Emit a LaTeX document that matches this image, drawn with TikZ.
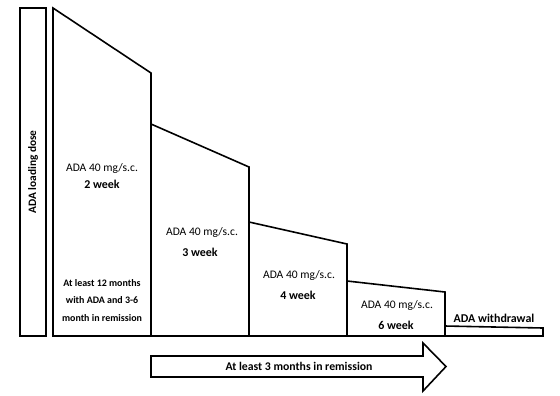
\documentclass[tikz,border=0pt]{standalone}
\usepackage{fontspec}
\setmainfont{Carlito}
\usetikzlibrary{shapes.arrows}
\begin{document}
\begin{tikzpicture}[x=1bp,y=-1bp,
  blk/.style={draw=black,line width=1.6pt,fill=white,line join=miter},
  lbl/.style={inner sep=0pt,font=\fontsize{11.6}{13}\selectfont},
  wk/.style={inner sep=0pt,font=\fontsize{12}{14}\selectfont\bfseries},
  sm/.style={inner sep=0pt,font=\fontsize{10}{12}\selectfont\bfseries}]
\useasboundingbox (0,0) rectangle (560,395);
% loading dose box
\draw[blk] (20,8) rectangle (46,336);
\node[wk,rotate=90,font=\fontsize{11.4}{13}\selectfont\bfseries] (load) at (33,172) {ADA loading dose};
% steps
\draw[blk] (53,336) -- (53,8) -- (151,73) -- (151,336) -- cycle;
\draw[blk] (151,336) -- (151,124) -- (249,167) -- (249,336) -- cycle;
\draw[blk] (249,336) -- (249,222) -- (347,244) -- (347,336) -- cycle;
\draw[blk] (347,336) -- (347,281) -- (445,292) -- (445,336) -- cycle;
\draw[blk] (445,336) -- (445,326) -- (543,328) -- (543,336) -- cycle;
% texts
\node[lbl] (a1) at (102,168) {ADA 40 mg/s.c.};
\node[wk] (b1) at (102,184) {2 week};
\node[sm] (c1) at (102,283) {At least 12 months};
\node[sm] (c2) at (102,300) {with ADA and 3-6};
\node[sm] (c3) at (102,318) {month in remission};
\node[lbl] (a2) at (202,232) {ADA 40 mg/s.c.};
\node[wk] (b2) at (200,252) {3 week};
\node[lbl] (a3) at (299,275) {ADA 40 mg/s.c.};
\node[wk] (b3) at (298,295) {4 week};
\node[lbl] (a4) at (397,305) {ADA 40 mg/s.c.};
\node[wk] (b4) at (396,325) {6 week};
\node[wk] (w) at (494,318) {ADA withdrawal};
% arrow
\draw[blk] (151,356) -- (423,356) -- (423,343) -- (446,366.5) -- (423,391) -- (423,377) -- (151,377) -- cycle;
\node[wk,font=\fontsize{11.8}{14}\selectfont\bfseries] (arr) at (299,366.5) {At least 3 months in remission};
\end{tikzpicture}
\end{document}
